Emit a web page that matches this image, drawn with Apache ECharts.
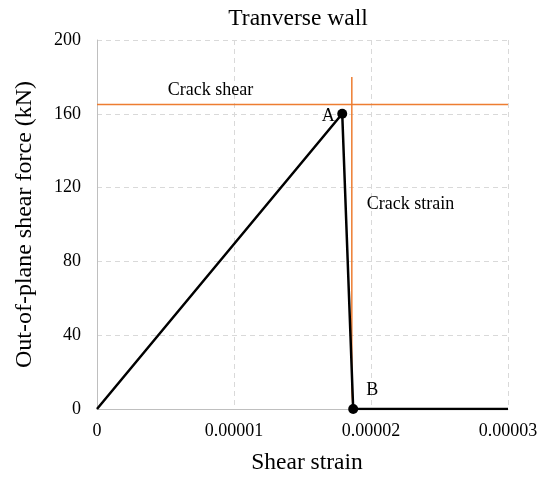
<!DOCTYPE html>
<html>
<head>
<meta charset="utf-8">
<script src="https://cdn.jsdelivr.net/npm/echarts@6/dist/echarts.min.js"></script>
<style>
  html, body { margin: 0; padding: 0; background: #fff; }
  #chart { width: 542px; height: 480px; }
</style>
</head>
<body>
<div id="chart"></div>
<script>
// Shear response of the transverse wall: strain vs. out-of-plane shear force
const responseStrain = [0, 0.0000179, 0.0000187, 0.00003];
const responseForce  = [0, 160, 0, 0];

// Key points on the response curve
const pointLabels = ['A', 'B'];
const pointStrain = [0.0000179, 0.0000187];
const pointForce  = [160, 0];

// Cracking reference lines
const crackShearForce = 165;
const crackShearStrainRange = [0, 0.00003];
const crackStrainX = [0.0000186, 0.0000186, 0.0000187];
const crackStrainY = [180, 12, 0];

// Text notes placed in data coordinates
const noteTexts  = ['Crack shear', 'Crack strain'];
const noteStrain = [0.00000828, 0.00002288];
const noteForce  = [172.9, 111.1];

// Axis ticks
const xTicks = [0, 0.00001, 0.00002, 0.00003];
const yTicks = [0, 40, 80, 120, 160, 200];

const FONT = 'Liberation Serif';
const ORANGE = '#ED7D31';
const pointLabelOffsets = [[-14, 2], [19, -19]];

const zip = (xs, ys) => xs.map((x, i) => [x, ys[i]]);

const chart = echarts.init(document.getElementById('chart'));
chart.setOption({
  backgroundColor: '#fff',
  animation: false,
  title: {
    text: 'Tranverse wall',
    left: 293, top: 2, textAlign: 'center',
    textStyle: { fontFamily: FONT, fontSize: 23.5, fontWeight: 'normal', color: '#000' }
  },
  grid: { left: 97, right: 34, top: 40, bottom: 71, containLabel: false },
  xAxis: {
    type: 'value',
    min: xTicks[0], max: xTicks[xTicks.length - 1], interval: 0.00001,
    name: 'Shear strain', nameLocation: 'middle', nameGap: 42,
    nameTextStyle: { fontFamily: FONT, fontSize: 23.5, color: '#000', padding: [0, 0, 0, 9] },
    axisLine: { show: true, lineStyle: { color: '#bfbfbf', width: 1 } },
    axisTick: { show: false },
    axisLabel: {
      fontFamily: FONT, fontSize: 18, color: '#000', margin: 13,
      formatter: v => (v === 0 ? '0' : v.toFixed(5))
    },
    splitLine: { show: true, lineStyle: { color: '#d9d9d9', type: [5, 4], width: 1 } }
  },
  yAxis: {
    type: 'value',
    min: yTicks[0], max: yTicks[yTicks.length - 1], interval: 40,
    name: 'Out-of-plane shear force (kN)', nameLocation: 'middle', nameGap: 60,
    nameTextStyle: { fontFamily: FONT, fontSize: 24, color: '#000' },
    axisLine: { show: true, lineStyle: { color: '#bfbfbf', width: 1 } },
    axisTick: { show: false },
    axisLabel: { fontFamily: FONT, fontSize: 18, color: '#000', margin: 16 },
    splitLine: { show: true, lineStyle: { color: '#d9d9d9', type: [5, 4], width: 1 } }
  },
  series: [
    {
      name: 'Crack shear',
      type: 'line',
      data: zip(crackShearStrainRange, [crackShearForce, crackShearForce]),
      symbol: 'none',
      lineStyle: { color: ORANGE, width: 1.5 },
      z: 2
    },
    {
      name: 'Crack strain',
      type: 'line',
      data: zip(crackStrainX, crackStrainY),
      symbol: 'none',
      smooth: 0.3,
      lineStyle: { color: ORANGE, width: 1.5 },
      z: 2
    },
    {
      name: 'Response',
      type: 'line',
      data: zip(responseStrain, responseForce),
      symbol: 'none',
      lineStyle: { color: '#000', width: 2.5 },
      z: 3
    },
    {
      name: 'Points',
      type: 'scatter',
      data: zip(pointStrain, pointForce).map((v, i) => ({
        value: v,
        label: { formatter: pointLabels[i], offset: pointLabelOffsets[i] }
      })),
      symbol: 'circle', symbolSize: 10,
      itemStyle: { color: '#000', opacity: 1 },
      label: {
        show: true, position: 'inside',
        fontFamily: FONT, fontSize: 18, color: '#000'
      },
      z: 4
    },
    {
      name: 'Notes',
      type: 'scatter',
      symbol: 'circle', symbolSize: 1,
      itemStyle: { color: 'rgba(0,0,0,0)', opacity: 1 },
      data: zip(noteStrain, noteForce).map((v, i) => ({
        value: v, label: { formatter: noteTexts[i] }
      })),
      label: {
        show: true, position: 'inside',
        fontFamily: FONT, fontSize: 18, color: '#000', opacity: 1
      },
      z: 4
    }
  ]
});
</script>
</body>
</html>
